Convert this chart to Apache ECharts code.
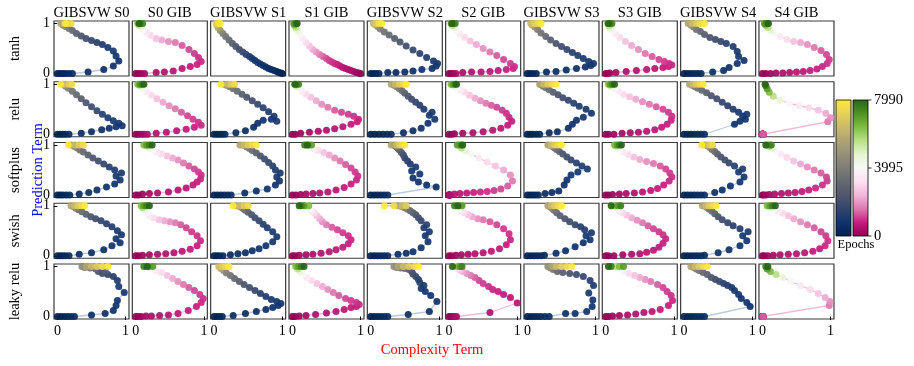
<!DOCTYPE html>
<html>
<head>
<meta charset="utf-8">
<script src="https://cdn.jsdelivr.net/npm/echarts@6/dist/echarts.min.js"></script>
<style>
    html, body { margin: 0; padding: 0; background: #fff; }
    #chart { width: 914px; height: 366px; }
</style>
</head>
<body>
<div id="chart"></div>
<script>
// epochs at which every trajectory point was logged (same for all panels)
const EPOCHS = [0, 100, 200, 300, 400, 480, 560, 640, 720, 800, 880, 960, 1040,
    1150, 1350, 1600, 1900, 2250, 2650, 3100, 3550, 4000,
    4600, 5600, 6400, 7000, 7500, 7990];

const rowNames = ['tanh', 'relu', 'softplus', 'swish', 'leaky relu'];
const colTitles = ['GIBSVW S0', 'S0 GIB', 'GIBSVW S1', 'S1 GIB', 'GIBSVW S2',
    'S2 GIB', 'GIBSVW S3', 'S3 GIB', 'GIBSVW S4', 'S4 GIB'];
const axisTicks = [0, 1];
const epochTicks = [0, 3995, 7990];

// [complexity, prediction] for each logged epoch
const tanhSvw0 = [[0,0],[.04,0],[.08,0],[.12,0],[.17,0],[.22,0],[.45,.03],[.68,.08],[.82,.15],[.9,.25],[.86,.35],[.82,.45],[.74,.52],[.66,.58],[.58,.62],[.5,.66],[.42,.7],[.35,.75],[.28,.8],[.22,.86],[.17,.9],[.12,.94],[.08,.97],[.05,1],[.1,1],[.15,1],[.2,1],[.12,1]];
const tanhGib0 = [[0,0],[.04,0],[.08,0],[.13,0],[.3,.02],[.42,.03],[.55,.05],[.68,.1],[.8,.14],[.9,.18],[.96,.24],[.92,.32],[.86,.4],[.78,.48],[.68,.56],[.58,.62],[.48,.64],[.38,.67],[.3,.7],[.22,.76],[.16,.82],[.11,.88],[.08,.93],[.05,.97],[.03,1],[.07,1],[.1,1],[.05,1]];
const tanhSvw1 = [[1,0],[.98,.01],[.95,.02],[.92,.04],[.88,.06],[.84,.08],[.8,.1],[.76,.13],[.72,.16],[.68,.19],[.64,.22],[.6,.26],[.56,.3],[.52,.34],[.47,.38],[.42,.43],[.37,.48],[.32,.54],[.27,.6],[.22,.67],[.17,.74],[.13,.8],[.09,.86],[.06,.92],[.04,.97],[.03,1],[.06,1],[.09,1]];
const tanhGib1 = [[1,0],[.97,.01],[.94,.02],[.9,.04],[.86,.06],[.82,.08],[.78,.1],[.74,.12],[.7,.15],[.66,.18],[.62,.2],[.58,.23],[.54,.26],[.5,.3],[.45,.34],[.4,.38],[.35,.43],[.3,.48],[.25,.55],[.2,.62],[.15,.7],[.11,.78],[.08,.85],[.05,.92],[.03,.97],[.02,1],[.05,1],[.07,1]];
const tanhSvw2 = [[0,0],[.04,0],[.08,0],[.12,0],[.25,.02],[.37,.02],[.5,.03],[.62,.05],[.75,.08],[.9,.1],[.96,.15],[.98,.2],[.92,.25],[.82,.32],[.72,.4],[.62,.47],[.52,.55],[.43,.63],[.35,.7],[.27,.77],[.2,.83],[.14,.89],[.1,.94],[.06,.98],[.04,1],[.08,1],[.12,1],[.16,1]];
const tanhGib2 = [[0,0],[.03,0],[.06,0],[.1,0],[.2,.02],[.33,.03],[.47,.03],[.6,.04],[.72,.06],[.84,.08],[.94,.1],[.96,.14],[.9,.2],[.8,.28],[.7,.36],[.6,.43],[.5,.5],[.4,.58],[.31,.65],[.23,.72],[.16,.79],[.11,.86],[.08,.92],[.05,.96],[.03,1],[.06,1],[.09,1],[.04,1]];
const tanhSvw3 = [[0,0],[.04,0],[.08,0],[.13,0],[.28,.03],[.42,.04],[.57,.07],[.72,.1],[.85,.13],[.93,.16],[.97,.2],[.9,.24],[.82,.3],[.74,.36],[.66,.42],[.58,.48],[.5,.54],[.42,.6],[.34,.67],[.27,.74],[.2,.81],[.15,.88],[.11,.93],[.07,.97],[.05,1],[.1,1],[.15,1],[.2,1]];
const tanhGib3 = [[0,0],[.03,0],[.06,.01],[.15,.02],[.3,.04],[.45,.06],[.6,.08],[.72,.1],[.84,.12],[.92,.14],[.97,.17],[.93,.2],[.86,.24],[.78,.28],[.68,.34],[.58,.4],[.48,.48],[.38,.56],[.29,.64],[.21,.72],[.15,.79],[.1,.85],[.07,.9],[.05,.95],[.03,1],[.06,1],[.09,1],[.04,1]];
const tanhSvw4 = [[0,0],[.05,0],[.1,0],[.15,0],[.2,0],[.25,0],[.42,.03],[.58,.06],[.66,.12],[.78,.2],[.88,.26],[.8,.34],[.78,.44],[.72,.54],[.62,.6],[.54,.64],[.46,.68],[.38,.72],[.3,.78],[.24,.84],[.18,.88],[.14,.93],[.1,.97],[.06,1],[.12,1],[.18,1],[.24,1],[.3,1]];
const tanhGib4 = [[0,0],[.05,0],[.12,0],[.2,.01],[.3,.01],[.4,.02],[.5,.03],[.6,.04],[.7,.06],[.8,.09],[.88,.14],[.95,.2],[.98,.28],[.94,.38],[.86,.46],[.76,.52],[.66,.58],[.56,.62],[.46,.64],[.36,.68],[.26,.74],[.18,.8],[.12,.86],[.08,.92],[.05,.97],[.03,1],[.06,1],[.09,1]];

const reluSvw0 = [[0,0],[.04,0],[.08,0],[.12,0],[.17,0],[.35,.02],[.5,.05],[.65,.09],[.76,.12],[.86,.15],[.95,.17],[.9,.22],[.82,.27],[.74,.33],[.66,.4],[.58,.47],[.5,.55],[.42,.63],[.35,.71],[.28,.79],[.22,.86],[.16,.92],[.12,.96],[.08,1],[.12,1],[.17,1],[.21,1],[.05,1]];
const reluGib0 = [[0,0],[.04,0],[.08,0],[.12,0],[.17,0],[.3,.02],[.45,.04],[.6,.07],[.74,.1],[.86,.14],[.96,.18],[.92,.24],[.84,.3],[.76,.37],[.67,.44],[.58,.51],[.49,.57],[.4,.64],[.31,.71],[.23,.78],[.16,.85],[.11,.9],[.08,.95],[.05,.98],[.03,1],[.06,1],[.09,1],[.12,1]];
const reluSvw1 = [[0,0],[.04,0],[.08,0],[.12,0],[.16,0],[.32,.03],[.46,.07],[.58,.14],[.64,.22],[.72,.28],[.84,.3],[.92,.26],[.88,.36],[.8,.45],[.72,.53],[.64,.6],[.56,.67],[.48,.74],[.41,.8],[.34,.86],[.28,.91],[.23,.95],[.18,.98],[.14,1],[.2,1],[.25,1],[.3,1],[.1,1]];
const reluGib1 = [[0,0],[.04,0],[.12,.02],[.25,.04],[.38,.06],[.5,.08],[.62,.11],[.74,.15],[.86,.2],[.95,.25],[.97,.3],[.9,.36],[.82,.4],[.72,.44],[.62,.48],[.52,.54],[.43,.6],[.35,.67],[.27,.74],[.2,.8],[.14,.86],[.1,.9],[.07,.94],[.05,.98],[.03,1],[.06,1],[.09,1],[.04,1]];
const reluSvw2 = [[0,0],[.06,0],[.12,0],[.18,0],[.24,0],[.3,0],[.48,.03],[.62,.07],[.74,.12],[.84,.22],[.94,.3],[.86,.38],[.9,.44],[.78,.5],[.72,.58],[.66,.64],[.6,.7],[.55,.76],[.5,.82],[.46,.87],[.42,.91],[.38,.95],[.34,.98],[.3,1],[.36,1],[.42,1],[.48,1],[.52,1]];
const reluGib2 = [[0,0],[.04,0],[.08,.01],[.2,.02],[.35,.03],[.5,.05],[.64,.08],[.76,.12],[.86,.18],[.92,.26],[.88,.34],[.84,.42],[.78,.48],[.7,.54],[.62,.58],[.54,.62],[.46,.67],[.38,.72],[.3,.78],[.23,.84],[.17,.89],[.12,.93],[.08,.96],[.05,.99],[.03,1],[.06,1],[.09,1],[.11,1]];
const reluSvw3 = [[0,0],[.04,0],[.08,0],[.13,0],[.18,0],[.32,.03],[.44,.05],[.6,.12],[.66,.2],[.72,.28],[.82,.34],[.94,.42],[.86,.5],[.76,.56],[.68,.62],[.6,.68],[.52,.73],[.45,.79],[.38,.84],[.32,.89],[.27,.93],[.23,.96],[.2,.99],[.18,1],[.24,1],[.3,1],[.36,1],[.42,1]];
const reluGib3 = [[0,0],[.04,0],[.12,0],[.24,.02],[.36,.03],[.48,.04],[.6,.06],[.72,.09],[.82,.14],[.9,.2],[.96,.28],[.97,.36],[.92,.44],[.84,.5],[.74,.55],[.64,.6],[.54,.65],[.44,.7],[.35,.75],[.26,.8],[.19,.86],[.13,.91],[.09,.95],[.06,.98],[.04,1],[.07,1],[.1,1],[.13,1]];
const reluSvw4 = [[0,0],[.05,0],[.1,0],[.15,0],[.2,0],[.25,0],[.3,0],[.74,.2],[.82,.26],[.9,.3],[.86,.36],[.92,.4],[.8,.44],[.72,.5],[.64,.57],[.56,.64],[.48,.71],[.4,.77],[.33,.83],[.26,.88],[.2,.92],[.16,.95],[.12,.98],[.08,1],[.13,1],[.18,1],[.23,1],[.28,1]];
const reluGib4 = [[0,0],[0,0],[0,0],[0,0],[0,0],[0,0],[0,0],[0,0],[.01,0],[.01,0],[.01,0],[.01,0],[.01,0],[.01,0],[.01,0],[.96,.25],[1,.33],[.93,.42],[.82,.48],[.68,.53],[.54,.57],[.4,.62],[.26,.68],[.16,.76],[.1,.84],[.07,.91],[.05,.97],[.04,1]];

const softSvw0 = [[0,0],[.04,0],[.08,0],[.13,0],[.18,0],[.32,.02],[.46,.05],[.58,.1],[.72,.16],[.84,.22],[.92,.3],[.86,.38],[.94,.44],[.84,.5],[.76,.56],[.68,.62],[.6,.68],[.52,.74],[.45,.8],[.38,.86],[.33,.9],[.29,.94],[.25,.97],[.2,1],[.26,1],[.32,1],[.38,1],[.16,1]];
const softGib0 = [[0,0],[.04,0],[.1,.02],[.2,.03],[.32,.04],[.48,.06],[.62,.1],[.74,.14],[.84,.2],[.9,.26],[.95,.32],[.96,.4],[.92,.46],[.86,.52],[.78,.58],[.7,.64],[.62,.7],[.54,.74],[.46,.78],[.38,.82],[.31,.86],[.25,.9],[.2,.94],[.16,.98],[.12,1],[.16,1],[.2,1],[.24,1]];
const softSvw1 = [[0,0],[.05,0],[.1,0],[.15,0],[.2,0],[.25,0],[.45,.04],[.62,.08],[.78,.12],[.9,.2],[.96,.28],[.92,.36],[.97,.44],[.9,.5],[.86,.58],[.8,.65],[.74,.72],[.68,.78],[.62,.84],[.56,.89],[.52,.93],[.48,.96],[.44,.99],[.38,1],[.44,1],[.5,1],[.56,1],[.62,1]];
const softGib1 = [[0,0],[.05,0],[.12,.01],[.2,.02],[.3,.03],[.4,.04],[.52,.06],[.64,.1],[.76,.15],[.86,.22],[.94,.3],[.96,.38],[.92,.46],[.86,.54],[.78,.61],[.7,.68],[.62,.74],[.54,.8],[.46,.85],[.38,.89],[.32,.92],[.27,.95],[.23,.98],[.2,1],[.24,1],[.28,1],[.18,1],[.22,1]];
const softSvw2 = [[0,0],[.05,0],[.1,0],[.15,0],[.2,0],[.25,0],[.96,.16],[.82,.2],[.7,.26],[.62,.34],[.72,.42],[.6,.48],[.66,.56],[.58,.62],[.54,.68],[.5,.74],[.48,.8],[.45,.85],[.42,.9],[.4,.93],[.38,.96],[.36,.98],[.34,1],[.3,1],[.38,1],[.42,1],[.46,1],[.5,1]];
const softGib2 = [[0,0],[0,0],[0,0],[.01,0],[.01,0],[.02,0],[.08,.02],[.16,.03],[.26,.04],[.36,.05],[.46,.06],[.56,.07],[.66,.09],[.76,.12],[.86,.18],[.93,.28],[.9,.4],[.8,.5],[.68,.58],[.56,.66],[.44,.74],[.32,.82],[.24,.88],[.18,.94],[.15,1],[.12,1],[.18,1],[.2,1]];
const softSvw3 = [[0,0],[.04,0],[.08,0],[.12,0],[.16,0],[.26,.03],[.36,.05],[.46,.08],[.54,.2],[.58,.3],[.64,.4],[.74,.46],[.88,.52],[.8,.58],[.72,.64],[.64,.7],[.58,.76],[.52,.82],[.47,.87],[.43,.91],[.4,.94],[.37,.97],[.34,.99],[.3,1],[.35,1],[.4,1],[.45,1],[.5,1]];
const softGib3 = [[0,0],[.04,0],[.1,.01],[.2,.02],[.3,.03],[.42,.04],[.54,.06],[.66,.09],[.76,.13],[.85,.2],[.93,.28],[.97,.36],[.94,.44],[.88,.52],[.8,.58],[.7,.63],[.6,.67],[.5,.71],[.41,.76],[.33,.81],[.26,.86],[.21,.91],[.18,.95],[.15,.98],[.13,1],[.17,1],[.2,1],[.23,1]];
const softSvw4 = [[0,0],[.05,0],[.1,0],[.15,0],[.2,0],[.25,0],[.3,0],[.45,.05],[.56,.1],[.68,.18],[.82,.26],[.88,.36],[.8,.46],[.86,.52],[.74,.58],[.66,.64],[.6,.7],[.54,.76],[.49,.82],[.45,.87],[.41,.91],[.38,.95],[.35,.98],[.3,1],[.34,1],[.38,1],[.42,1],[.26,1]];
const softGib4 = [[0,0],[.02,0],[.05,0],[.1,.01],[.18,.02],[.28,.03],[.38,.04],[.48,.05],[.58,.07],[.68,.1],[.78,.14],[.88,.2],[.95,.28],[.94,.36],[.86,.44],[.76,.5],[.66,.56],[.56,.62],[.46,.68],[.36,.75],[.27,.82],[.2,.88],[.15,.93],[.1,.97],[.07,1],[.1,1],[.13,1],[.05,1]];

const swishSvw0 = [[0,0],[.04,0],[.08,0],[.12,0],[.17,0],[.32,.03],[.5,.06],[.68,.12],[.8,.2],[.92,.26],[.86,.34],[.94,.42],[.88,.5],[.8,.58],[.72,.64],[.64,.7],[.56,.74],[.49,.78],[.42,.83],[.36,.88],[.31,.92],[.27,.95],[.24,.98],[.2,1],[.25,1],[.3,1],[.35,1],[.4,1]];
const swishGib0 = [[0,0],[.04,0],[.1,.01],[.2,.02],[.32,.03],[.44,.04],[.56,.06],[.68,.09],[.8,.13],[.9,.2],[.95,.3],[.9,.4],[.82,.48],[.74,.56],[.66,.62],[.58,.66],[.5,.68],[.42,.7],[.34,.72],[.26,.76],[.2,.8],[.16,.86],[.13,.92],[.1,.96],[.08,1],[.12,1],[.16,1],[.2,1]];
const swishSvw1 = [[0,0],[.04,0],[.08,0],[.13,0],[.24,.02],[.35,.04],[.46,.06],[.56,.1],[.66,.14],[.76,.2],[.86,.28],[.92,.38],[.86,.48],[.78,.56],[.72,.63],[.66,.7],[.6,.76],[.55,.82],[.5,.87],[.46,.91],[.43,.94],[.4,.97],[.37,.99],[.32,1],[.38,1],[.44,1],[.5,1],[.28,1]];
const swishGib1 = [[0,0],[.04,0],[.1,.01],[.2,.02],[.3,.03],[.42,.05],[.54,.08],[.64,.12],[.74,.17],[.82,.24],[.86,.32],[.82,.4],[.74,.46],[.66,.52],[.58,.57],[.5,.62],[.44,.68],[.4,.74],[.36,.8],[.32,.86],[.28,.9],[.25,.94],[.22,.97],[.2,1],[.24,1],[.17,1],[.13,1],[.1,1]];
const swishSvw2 = [[0,0],[.05,0],[.1,0],[.15,0],[.2,0],[.25,0],[.4,.03],[.52,.05],[.62,.08],[.74,.16],[.84,.28],[.8,.4],[.86,.48],[.78,.56],[.82,.62],[.74,.7],[.7,.76],[.66,.82],[.62,.86],[.58,.9],[.54,.93],[.5,.96],[.46,.98],[.4,1],[.46,1],[.52,1],[.34,1],[.2,1]];
const swishGib2 = [[0,0],[.04,0],[.1,.01],[.18,.02],[.28,.03],[.38,.04],[.5,.06],[.62,.09],[.74,.14],[.84,.22],[.9,.32],[.88,.44],[.8,.54],[.7,.62],[.6,.68],[.5,.72],[.42,.74],[.34,.78],[.28,.82],[.22,.86],[.18,.9],[.15,.94],[.13,.97],[.11,1],[.15,1],[.19,1],[.08,1],[.13,1]];
const swishSvw3 = [[0,0],[.05,0],[.1,0],[.15,0],[.2,0],[.25,.01],[.42,.05],[.56,.1],[.7,.18],[.82,.26],[.92,.32],[.86,.4],[.94,.46],[.84,.52],[.78,.58],[.7,.62],[.62,.68],[.55,.74],[.48,.8],[.43,.86],[.39,.91],[.36,.95],[.33,.98],[.3,1],[.35,1],[.4,1],[.45,1],[.5,1]];
const swishGib3 = [[0,0],[.04,0],[.12,0],[.25,.02],[.38,.03],[.5,.04],[.6,.07],[.7,.11],[.78,.17],[.84,.25],[.88,.34],[.84,.42],[.78,.48],[.7,.54],[.62,.6],[.54,.66],[.46,.71],[.38,.76],[.31,.81],[.25,.86],[.2,.9],[.16,.94],[.13,.97],[.1,1],[.14,1],[.18,1],[.22,1],[.08,1]];
const swishSvw4 = [[0,0],[.05,0],[.1,0],[.15,0],[.2,0],[.25,0],[.3,.01],[.5,.06],[.66,.12],[.82,.2],[.92,.3],[.86,.4],[.94,.48],[.82,.54],[.72,.6],[.64,.66],[.56,.72],[.5,.78],[.45,.84],[.41,.89],[.37,.93],[.34,.96],[.31,.99],[.27,1],[.32,1],[.37,1],[.42,1],[.47,1]];
const swishGib4 = [[0,0],[.03,0],[.08,0],[.16,.01],[.26,.02],[.38,.03],[.5,.04],[.62,.06],[.74,.09],[.84,.14],[.92,.2],[.96,.3],[.93,.4],[.86,.48],[.76,.56],[.66,.62],[.56,.68],[.46,.74],[.38,.8],[.3,.85],[.23,.89],[.17,.93],[.13,.96],[.1,.99],[.07,1],[.11,1],[.15,1],[.19,1]];

const leakySvw0 = [[0,0],[.05,0],[.1,0],[.15,0],[.2,0],[.25,0],[.5,.03],[.7,.06],[.82,.12],[.86,.22],[.88,.32],[.98,.48],[.9,.6],[.88,.72],[.82,.8],[.74,.84],[.66,.86],[.6,.9],[.7,.92],[.56,.95],[.48,.97],[.4,.98],[.36,1],[.42,1],[.5,1],[.58,1],[.66,1],[.74,1]];
const leakyGib0 = [[0,0],[.04,0],[.08,0],[.15,.01],[.23,.01],[.35,.02],[.48,.03],[.62,.06],[.77,.12],[.89,.2],[.96,.28],[.99,.36],[.94,.44],[.86,.52],[.78,.58],[.7,.64],[.62,.7],[.54,.76],[.46,.82],[.38,.88],[.3,.92],[.24,.95],[.19,.98],[.15,1],[.2,1],[.25,1],[.12,1],[.17,1]];
const leakySvw1 = [[0,0],[.04,0],[.08,0],[.12,0],[.28,.02],[.46,.06],[.62,.1],[.76,.14],[.86,.18],[.94,.22],[.98,.26],[.92,.3],[.84,.34],[.76,.4],[.68,.46],[.6,.52],[.52,.58],[.44,.64],[.37,.7],[.3,.76],[.24,.82],[.18,.87],[.14,.92],[.1,.96],[.07,1],[.12,1],[.17,1],[.22,1]];
const leakyGib1 = [[0,0],[.04,0],[.1,.01],[.2,.02],[.34,.04],[.5,.07],[.64,.1],[.76,.14],[.86,.18],[.94,.2],[.98,.24],[.94,.28],[.86,.32],[.78,.36],[.68,.42],[.6,.48],[.52,.54],[.44,.6],[.36,.66],[.28,.72],[.21,.78],[.15,.84],[.11,.9],[.08,.95],[.05,1],[.09,1],[.13,1],[.17,1]];
const leakySvw2 = [[0,0],[.05,0],[.1,0],[.15,0],[.2,0],[.25,0],[.55,.04],[.86,.1],[.97,.3],[.88,.42],[.8,.5],[.74,.56],[.78,.62],[.72,.68],[.7,.74],[.66,.8],[.62,.85],[.6,.9],[.56,.94],[.5,.96],[.44,.97],[.38,.98],[.34,1],[.4,1],[.48,1],[.56,1],[.64,1],[.7,1]];
const leakyGib2 = [[0,0],[.02,0],[.05,0],[.08,0],[.11,0],[.6,.08],[1,.27],[.9,.38],[.8,.44],[.72,.5],[.64,.54],[.58,.6],[.5,.66],[.44,.72],[.38,.78],[.32,.82],[.26,.86],[.2,.9],[.16,.93],[.13,.96],[.11,.98],[.09,1],[.07,1],[.1,1],[.13,1],[.16,1],[.19,1],[.05,1]];
const leakySvw3 = [[0,0],[.05,0],[.1,0],[.15,0],[.2,0],[.26,0],[.32,0],[.56,.06],[.7,.06],[.87,.1],[.95,.2],[.96,.33],[.9,.47],[.97,.62],[.92,.72],[.82,.8],[.72,.84],[.62,.86],[.52,.88],[.44,.9],[.38,.94],[.34,.97],[.3,1],[.36,1],[.42,1],[.5,1],[.58,1],[.65,1]];
const leakyGib3 = [[0,0],[.04,0],[.1,.01],[.2,.02],[.32,.03],[.44,.05],[.56,.08],[.68,.1],[.8,.14],[.92,.22],[.98,.32],[.96,.42],[.9,.5],[.84,.58],[.76,.64],[.66,.7],[.58,.74],[.5,.78],[.42,.82],[.34,.86],[.27,.9],[.22,.94],[.18,.97],[.14,1],[.2,1],[.26,1],[.08,1],[.04,1]];
const leakySvw4 = [[0,0],[.05,0],[.1,0],[.15,0],[.2,0],[.25,0],[.3,0],[.97,.2],[.92,.28],[.84,.36],[.8,.44],[.74,.52],[.7,.58],[.64,.62],[.58,.66],[.52,.7],[.46,.74],[.4,.78],[.34,.84],[.28,.88],[.22,.92],[.18,.95],[.14,.98],[.1,1],[.16,1],[.22,1],[.28,1],[.34,1]];
const leakyGib4 = [[0,0],[0,0],[0,0],[0,0],[0,0],[0,0],[.01,0],[.01,0],[.01,0],[.01,0],[.01,0],[.01,0],[.01,0],[.01,0],[.01,0],[.98,.22],[.99,.3],[.92,.38],[.82,.46],[.7,.54],[.56,.62],[.42,.7],[.3,.78],[.2,.84],[.12,.9],[.07,.95],[.05,1],[.08,1]];

const panels = [
    [tanhSvw0, tanhGib0, tanhSvw1, tanhGib1, tanhSvw2, tanhGib2, tanhSvw3, tanhGib3, tanhSvw4, tanhGib4],
    [reluSvw0, reluGib0, reluSvw1, reluGib1, reluSvw2, reluGib2, reluSvw3, reluGib3, reluSvw4, reluGib4],
    [softSvw0, softGib0, softSvw1, softGib1, softSvw2, softGib2, softSvw3, softGib3, softSvw4, softGib4],
    [swishSvw0, swishGib0, swishSvw1, swishGib1, swishSvw2, swishGib2, swishSvw3, swishGib3, swishSvw4, swishGib4],
    [leakySvw0, leakyGib0, leakySvw1, leakyGib1, leakySvw2, leakyGib2, leakySvw3, leakyGib3, leakySvw4, leakyGib4]
];

// colormaps
const cividis = ['#00224e', '#123570', '#3b496c', '#575d6d', '#707173', '#8a8779', '#a69d75', '#c4b56c', '#e4cf5b', '#fee838'];
const piyg = ['#8e0152', '#c51b7d', '#de77ae', '#f1b6da', '#fde0ef', '#f7f7f7', '#e6f5d0', '#b8e186', '#7fbc41', '#4d9221', '#276419'];

const SERIF = '"Liberation Serif", "DejaVu Serif", serif';
const GL = 54, GT = 21, GW = 75, GH = 55, DX = 78.33, DY = 60.75;
const nRows = rowNames.length, nCols = colTitles.length;

let grids = [], xAxes = [], yAxes = [], lineSeries = [], dotSeries = [];
let svwIdx = [], gibIdx = [];

for (let r = 0; r < nRows; r++) {
    for (let c = 0; c < nCols; c++) {
        let i = r * nCols + c;
        let isGib = c % 2 === 1;
        let pts = panels[r][c];
        grids.push({
            left: GL + c * DX, top: GT + r * DY, width: GW, height: GH,
            show: true, borderColor: '#3a3a3a', borderWidth: 1.2, backgroundColor: 'transparent'
        });
        let bottom = r === nRows - 1;
        xAxes.push({
            type: 'value', gridIndex: i, min: -0.05, max: 1.05,
            axisLine: { show: false }, splitLine: { show: false },
            axisTick: { show: bottom, customValues: axisTicks, length: 3.5, lineStyle: { color: '#000' } },
            axisLabel: { show: bottom, customValues: axisTicks, margin: 5, fontSize: 14, fontFamily: SERIF, color: '#000' }
        });
        let first = c === 0;
        yAxes.push({
            type: 'value', gridIndex: i, min: -0.05, max: 1.05,
            axisLine: { show: false }, splitLine: { show: false },
            axisTick: { show: first, customValues: axisTicks, length: 3.5, lineStyle: { color: '#000' } },
            axisLabel: { show: first, customValues: axisTicks, margin: 4, fontSize: 14, fontFamily: SERIF, color: '#000' }
        });
        lineSeries.push({
            type: 'line', xAxisIndex: i, yAxisIndex: i, silent: true,
            data: pts.map(p => [p[0], p[1]]),
            symbol: 'none', z: 1,
            lineStyle: { width: 1.3, color: isGib ? '#f2bcd6' : '#bccbe0' }
        });
        dotSeries.push({
            type: 'scatter', xAxisIndex: i, yAxisIndex: i, silent: true,
            data: pts.map((p, k) => [p[0], p[1], EPOCHS[k]]),
            symbolSize: 7, z: 3,
            itemStyle: { opacity: 0.92 }
        });
    }
}
dotSeries.forEach((s, k) => {
    let c = k % nCols;
    (c % 2 === 1 ? gibIdx : svwIdx).push(lineSeries.length + k);
});

// texts and colorbars
let graphics = [];
colTitles.forEach((t, c) => {
    graphics.push({
        type: 'text', x: GL + c * DX + GW / 2, y: 13,
        style: { text: t, fontSize: 14.5, fontFamily: SERIF, fill: '#000', align: 'center', verticalAlign: 'middle' }
    });
});
rowNames.forEach((t, r) => {
    graphics.push({
        type: 'text', x: 15, y: GT + r * DY + GH / 2, rotation: Math.PI / 2,
        style: { text: t, fontSize: 14.5, fontFamily: SERIF, fill: '#000', align: 'center', verticalAlign: 'middle' }
    });
});
graphics.push({
    type: 'text', x: 38, y: 170, rotation: Math.PI / 2,
    style: { text: 'Prediction Term', fontSize: 14.5, fontFamily: SERIF, fill: '#0000ff', align: 'center', verticalAlign: 'middle' }
});
graphics.push({
    type: 'text', x: 432, y: 350,
    style: { text: 'Complexity Term', fontSize: 14.5, fontFamily: SERIF, fill: '#ff0000', align: 'center', verticalAlign: 'middle' }
});

const CB_TOP = 100, CB_H = 136;
function gradient(colors) {
    return {
        type: 'linear', x: 0, y: 1, x2: 0, y2: 0,
        colorStops: colors.map((col, k) => ({ offset: k / (colors.length - 1), color: col }))
    };
}
graphics.push({
    type: 'rect', shape: { x: 836, y: CB_TOP, width: 15, height: CB_H },
    style: { fill: gradient(cividis), stroke: '#000', lineWidth: 0.8 }
});
graphics.push({
    type: 'rect', shape: { x: 853, y: CB_TOP, width: 15, height: CB_H },
    style: { fill: gradient(piyg), stroke: '#000', lineWidth: 0.8 }
});
epochTicks.forEach(v => {
    let y = CB_TOP + CB_H * (1 - v / 7990);
    graphics.push({ type: 'line', shape: { x1: 868, y1: y, x2: 871.5, y2: y }, style: { stroke: '#000', lineWidth: 0.8 } });
    graphics.push({
        type: 'text', x: 874, y: y,
        style: { text: String(v), fontSize: 14.5, fontFamily: SERIF, fill: '#000', align: 'left', verticalAlign: 'middle' }
    });
});
graphics.push({
    type: 'text', x: 856, y: 245,
    style: { text: 'Epochs', fontSize: 12.5, fontFamily: SERIF, fill: '#000', align: 'center', verticalAlign: 'middle' }
});

let chart = echarts.init(document.getElementById('chart'));
chart.setOption({
    animation: false,
    backgroundColor: '#fff',
    grid: grids,
    xAxis: xAxes,
    yAxis: yAxes,
    visualMap: [
        { type: 'continuous', show: false, min: 0, max: 7990, dimension: 2, seriesIndex: svwIdx, inRange: { color: cividis } },
        { type: 'continuous', show: false, min: 0, max: 7990, dimension: 2, seriesIndex: gibIdx, inRange: { color: piyg } }
    ],
    series: lineSeries.concat(dotSeries),
    graphic: graphics
});
</script>
</body>
</html>
